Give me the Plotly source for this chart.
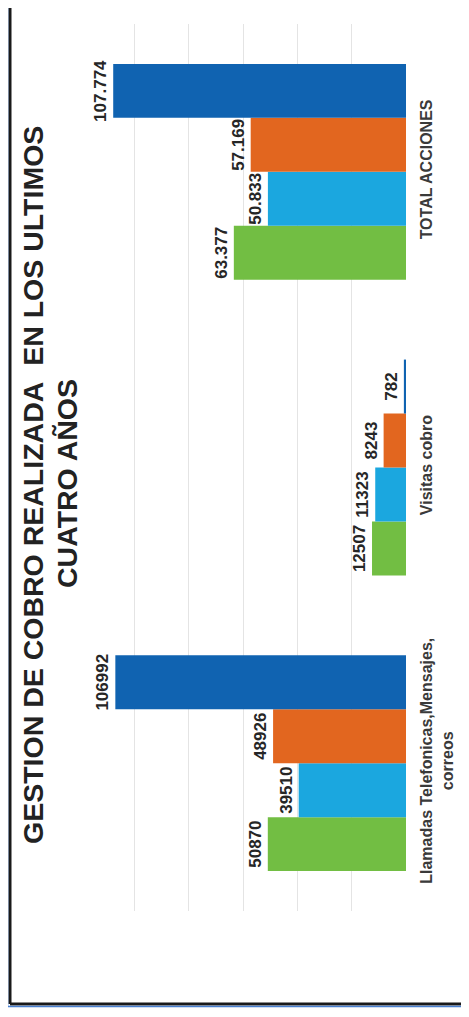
import plotly.graph_objects as go

categories = ["Llamadas Telefonicas,Mensajes,<br>correos", "Visitas cobro", "TOTAL ACCIONES"]
series_names = ["Año 1", "Año 2", "Año 3", "Año 4"]
green_vals = [50870, 12507, 63377]
cyan_vals = [39510, 11323, 50833]
orange_vals = [48926, 8243, 57169]
blue_vals = [106992, 782, 107774]
grid_ticks = [0, 20000, 40000, 60000, 80000, 100000, 120000]
title_line1 = "GESTION DE COBRO REALIZADA&nbsp; EN LOS ULTIMOS"
title_line2 = "CUATRO AÑOS"

series = [green_vals, cyan_vals, orange_vals, blue_vals]
colors = ["#72BE43", "#1BA7DF", "#E2661F", "#1063B1"]


def fmt(v, cat):
    if cat == "TOTAL ACCIONES":
        return f"{v:,}".replace(",", ".")
    return str(v)


OFF = 8  # page body margin
W, H = 469 - OFF, 1017 - OFF
L, R, T, B = 72, 63, 16, 106
pw, ph = W - L - R, H - T - B


def px_x(x):  # screen px -> paper
    return (x - OFF - L) / pw


def px_y(y):
    return (H - B - (y - OFF)) / ph


fig = go.Figure()
for name, vals, col in zip(series_names, series, colors):
    fig.add_trace(go.Bar(
        y=categories, x=vals, name=name, orientation="h",
        marker=dict(color=col, line=dict(width=0)),
        text=[fmt(v, c) for v, c in zip(vals, categories)],
        textposition="outside", textangle=-90, constraintext="none",
        cliponaxis=False,
        textfont=dict(family="Liberation Sans, Arial", size=17, color="#262626", weight="bold"),
    ))

title_font = dict(family="Liberation Sans, Arial", color="#222222", weight="bold", size=28.5)

fig.update_layout(
    width=W, height=H,
    margin=dict(l=L, r=R, t=T, b=B, autoexpand=False),
    paper_bgcolor="white", plot_bgcolor="white",
    barmode="group", bargap=0.27, bargroupgap=0,
    showlegend=False,
    font=dict(family="Liberation Sans, Arial", color="#333333"),
    xaxis=dict(range=[120000, 0], tickvals=grid_ticks, showticklabels=False,
               showgrid=True, gridcolor="#E4E4E4", gridwidth=1, automargin=False,
               zeroline=False, showline=False, ticks=""),
    yaxis=dict(side="right", tickangle=-90, showgrid=False, zeroline=False,
               showline=False, ticks="", automargin=False, ticklabelstandoff=9,
               tickfont=dict(family="Liberation Sans, Arial", size=16, color="#3a3a3a", weight="bold")),
    annotations=[
        dict(text=title_line1, xref="paper", yref="paper", x=px_x(33), y=px_y(485),
             xanchor="center", yanchor="middle", textangle=-90, showarrow=False,
             font=title_font),
        dict(text=title_line2, xref="paper", yref="paper", x=px_x(67), y=px_y(484),
             xanchor="center", yanchor="middle", textangle=-90, showarrow=False,
             font=title_font),
    ],
    shapes=[
        dict(type="line", xref="paper", yref="paper", x0=px_x(10), x1=px_x(480),
             y0=px_y(1004), y1=px_y(1004), line=dict(color="#1a1a1a", width=3)),
        dict(type="line", xref="paper", yref="paper", x0=px_x(10), x1=px_x(10),
             y0=px_y(-5), y1=px_y(1004), line=dict(color="#1a1a1a", width=3)),
        dict(type="line", xref="paper", yref="paper", x0=px_x(7.5), x1=px_x(7.5),
             y0=px_y(-5), y1=px_y(1006.5), line=dict(color="#4A80D0", width=1.5)),
        dict(type="line", xref="paper", yref="paper", x0=px_x(7.5), x1=px_x(480),
             y0=px_y(1006.5), y1=px_y(1006.5), line=dict(color="#4A80D0", width=1.5)),
    ],
)

fig.write_html("out.html")
